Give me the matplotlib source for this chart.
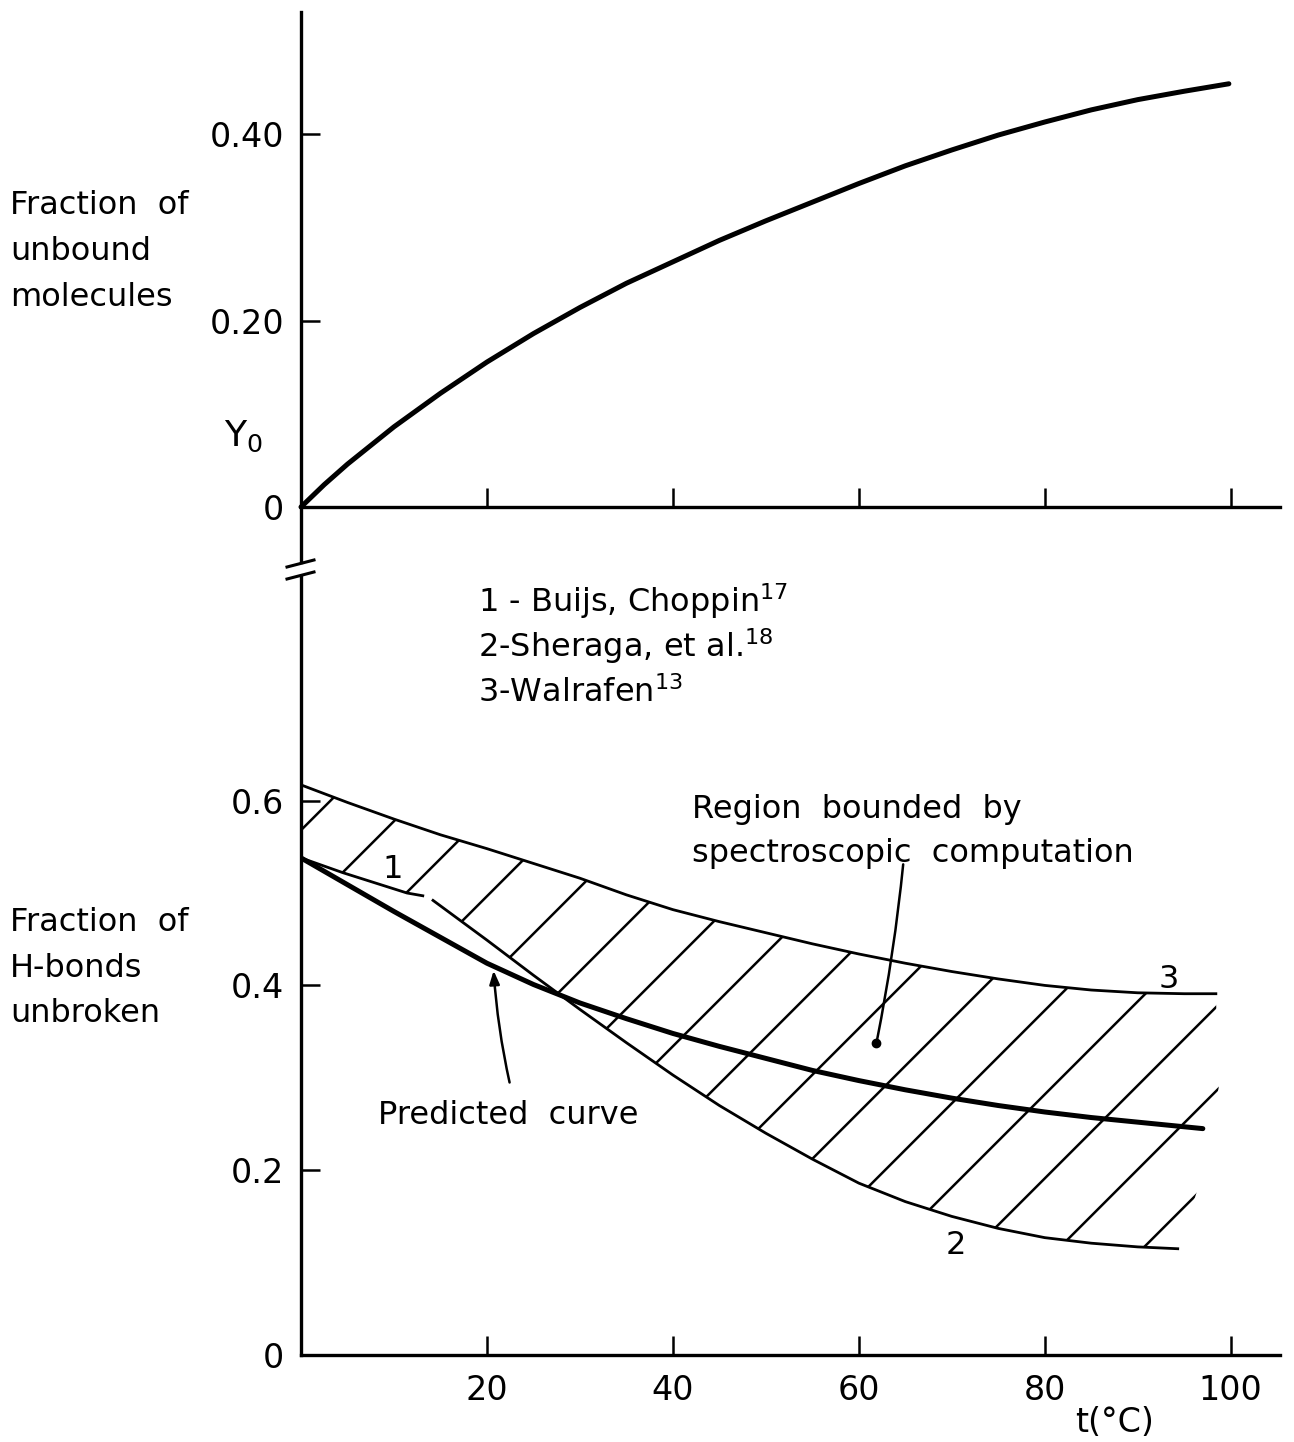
import matplotlib
matplotlib.use("Agg")
import matplotlib.pyplot as plt
from matplotlib.lines import Line2D
from matplotlib.patches import Polygon
import numpy as np

plt.rcParams['font.family'] = ['DejaVu Sans']
plt.rcParams['mathtext.fontset'] = 'dejavusans'

# ---------------- data ----------------
# Top panel: fraction of unbound molecules Y0 vs t(°C)
y0_t = [0, 2.5, 5, 7.5, 10, 15, 20, 25, 30, 35, 40, 45, 50, 55, 60, 65, 70, 75, 80, 85, 90, 95, 99.8]
y0_v = [0, 0.024, 0.046, 0.066, 0.086, 0.122, 0.1555, 0.186, 0.214, 0.240, 0.263, 0.286, 0.307,
        0.327, 0.347, 0.366, 0.383, 0.399, 0.413, 0.426, 0.437, 0.446, 0.454]

# Bottom panel: fraction of H-bonds unbroken
pred_t = [0, 5, 10, 15, 20, 25, 30, 35, 40, 45, 50, 55, 60, 65, 70, 75, 80, 85, 90, 95, 97]
pred_v = [0.538, 0.509, 0.480, 0.452, 0.424, 0.401, 0.381, 0.364, 0.348, 0.334, 0.321, 0.308,
          0.297, 0.287, 0.278, 0.270, 0.263, 0.257, 0.252, 0.247, 0.245]

c1_t = [0, 4.5, 11.4, 13.1]                       # 1 - Buijs, Choppin
c1_v = [0.538, 0.522, 0.500, 0.497]

c2_t = [14.2, 20, 25, 30, 35, 40, 45, 50, 55, 60, 65, 70, 75, 80, 85, 90, 94.3]   # 2 - Sheraga
c2_v = [0.492, 0.449, 0.411, 0.374, 0.338, 0.303, 0.270, 0.240, 0.212, 0.186, 0.166, 0.150,
        0.137, 0.127, 0.121, 0.117, 0.115]

c3_t = [0, 5, 10, 15, 20, 25, 30, 35, 40, 45, 50, 55, 60, 65, 70, 75, 80, 85, 90, 95, 98.4]   # 3 - Walrafen
c3_v = [0.617, 0.598, 0.580, 0.563, 0.548, 0.532, 0.516, 0.498, 0.482, 0.469, 0.457, 0.445,
        0.434, 0.424, 0.415, 0.407, 0.400, 0.395, 0.392, 0.391, 0.391]

# open right edge of the hatched region
edge_t = [98.7, 96.3]
edge_v = [0.289, 0.175]

top_yticks = [0, 0.20, 0.40]
top_ylabels = ["0", "0.20", "0.40"]
bot_yticks = [0, 0.2, 0.4, 0.6]
bot_ylabels = ["0", "0.2", "0.4", "0.6"]
xticks = [20, 40, 60, 80, 100]
xlabels = ["20", "40", "60", "80", "100"]

legend_lines = ["1 - Buijs, Choppin$^{17}$", "2-Sheraga, et al.$^{18}$", "3-Walrafen$^{13}$"]

# ---------------- layout ----------------
W, H = 1294, 1442
fig = plt.figure(figsize=(W / 100, H / 100), dpi=100)
fig.patch.set_facecolor("white")


def frac_box(x0, y_top, x1, y_bot):
    return [x0 / W, 1 - y_bot / H, (x1 - x0) / W, (y_bot - y_top) / H]


def fp(x, y):
    return (x / W, 1 - y / H)


XMAX = 105.3
AX_LW = 2.4
TXT = 23
TICK_FS = 24

ax1 = fig.add_axes(frac_box(301, 12, 1280, 562))
ax2 = fig.add_axes(frac_box(301, 577, 1280, 1355))

ax1.set_xlim(0, XMAX)
ax1.set_ylim(-0.059, 0.531)
ax2.set_xlim(0, XMAX)
ax2.set_ylim(0, 0.842)

for ax in (ax1, ax2):
    ax.set_facecolor("none")
    ax.spines['top'].set_visible(False)
    ax.spines['right'].set_visible(False)
    ax.spines['left'].set_linewidth(AX_LW)
    ax.spines['bottom'].set_linewidth(AX_LW)
    ax.tick_params(direction='in', length=14, width=1.8, labelsize=TICK_FS, pad=12)
    ax.set_xticks(xticks)

ax1.spines['bottom'].set_position(('data', 0))
ax1.spines['left'].set_bounds(-0.059, 0.531)
ax1.set_yticks(top_yticks)
ax1.set_yticklabels(top_ylabels)
ax1.set_xticklabels([])

ax2.set_yticks(bot_yticks)
ax2.set_yticklabels(bot_ylabels)
ax2.set_xticklabels(xlabels)
ax2.tick_params(axis='x', pad=14)

# axis break marks
for yb in (567, 579):
    fig.add_artist(Line2D([287 / W, 314 / W], [1 - yb / H, 1 - (yb - 7) / H],
                          transform=fig.transFigure, color="black", lw=2.2))

# ---------------- curves ----------------
ax1.plot(y0_t, y0_v, color="black", lw=3.6, solid_capstyle="round", clip_on=False)

ax2.plot(pred_t, pred_v, color="black", lw=3.6, solid_capstyle="round", zorder=4)
ax2.plot(c1_t, c1_v, color="black", lw=2.0, zorder=3)
ax2.plot(c2_t, c2_v, color="black", lw=2.0, zorder=3)
ax2.plot(c3_t, c3_v, color="black", lw=2.0, zorder=3)

# hatched region between curve 3 and curves 1/2
poly_t = list(c3_t) + list(edge_t) + list(c2_t[::-1]) + list(c1_t[::-1])
poly_v = list(c3_v) + list(edge_v) + list(c2_v[::-1]) + list(c1_v[::-1])
clip_poly = Polygon(np.column_stack([poly_t, poly_v]), closed=True,
                    transform=ax2.transData, facecolor="none", edgecolor="none")
ax2.add_patch(clip_poly)

p0 = ax2.transData.transform((0, 0))
px_per_t = ax2.transData.transform((1, 0))[0] - p0[0]
px_per_v = ax2.transData.transform((0, 1))[1] - p0[1]
slope = px_per_t / px_per_v
HATCH_PX = 84
dt = HATCH_PX / px_per_t
v_anchor = 0.568
tt = np.array([-10.0, 115.0])
for k in range(-3, 22):
    hv = v_anchor + slope * (tt - k * dt)
    ln, = ax2.plot(tt, hv, color="black", lw=1.8, zorder=2)
    ln.set_clip_path(clip_poly)

# ---------------- text ----------------
for s, y in (("Fraction  of", 214), ("unbound", 260), ("molecules", 306)):
    fig.text(*fp(10, y), s, fontsize=TXT, ha="left", va="baseline")
fig.text(*fp(224, 446), r"Y$_{\mathregular{0}}$", fontsize=26, ha="left", va="baseline")

for s, y in (("Fraction  of", 931), ("H-bonds", 977), ("unbroken", 1022)):
    fig.text(*fp(10, y), s, fontsize=TXT, ha="left", va="baseline")

for s, y in zip(legend_lines, (612, 657, 702)):
    fig.text(*fp(478, y), s, fontsize=TXT, ha="left", va="baseline")

fig.text(*fp(692, 818), "Region  bounded  by", fontsize=TXT, ha="left", va="baseline")
fig.text(*fp(692, 862), "spectroscopic  computation", fontsize=TXT, ha="left", va="baseline")
fig.text(*fp(378, 1124), "Predicted  curve", fontsize=TXT, ha="left", va="baseline")

ax2.text(9.9, 0.525, "1", fontsize=TXT, ha="center", va="center")
ax2.text(70.4, 0.118, "2", fontsize=TXT, ha="center", va="center")
ax2.text(93.3, 0.4065, "3", fontsize=TXT, ha="center", va="center")

fig.text(*fp(1075, 1432), "t(°C)", fontsize=24, ha="left", va="baseline")

# annotations
ax2.annotate("", xy=(61.9, 0.338), xytext=(64.8, 0.534),
             arrowprops=dict(arrowstyle="-", color="black", lw=1.8,
                             connectionstyle="arc3,rad=-0.025"))
ax2.plot([61.9], [0.338], marker="o", color="black", markersize=6)
ax2.annotate("", xy=(20.7, 0.419), xytext=(22.5, 0.292),
             arrowprops=dict(arrowstyle="-|>,head_length=0.8,head_width=0.3", color="black", lw=1.8,
                             connectionstyle="arc3,rad=-0.04"))

fig.savefig("out.png", dpi=100, facecolor="white")
